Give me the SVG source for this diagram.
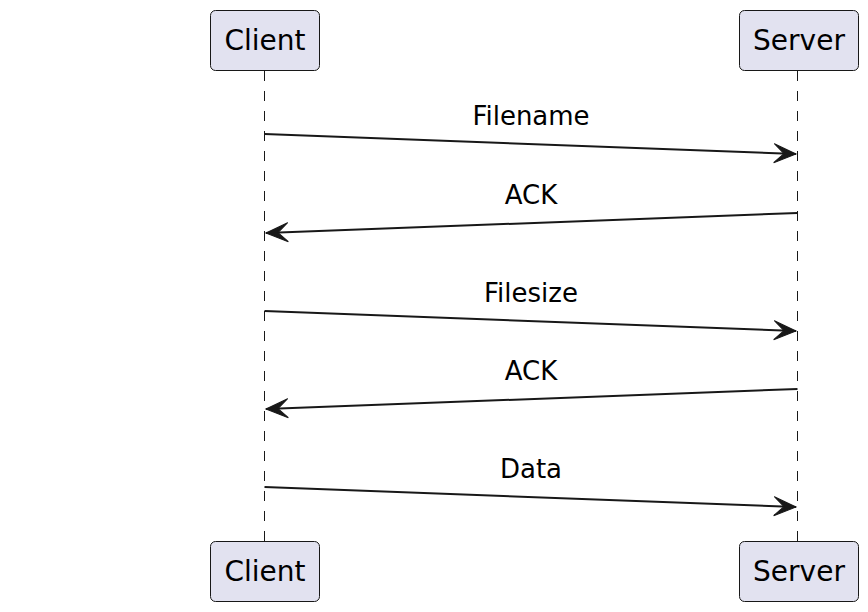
<svg xmlns="http://www.w3.org/2000/svg" width="868" height="612" viewBox="0 0 868 612">
<style>
.box{fill:#E2E2F0;stroke:#181818;stroke-width:1}
.pt{font-family:"DejaVu Sans",sans-serif;font-size:28px;fill:#000;text-anchor:middle}
.mt{font-family:"DejaVu Sans",sans-serif;font-size:26px;fill:#000;text-anchor:middle}
.life{stroke:#181818;stroke-width:1;stroke-dasharray:10,10;fill:none}
.msg{stroke:#181818;stroke-width:2;fill:none;marker-end:url(#ah)}
</style>
<defs>
<marker id="ah" markerUnits="userSpaceOnUse" viewBox="-24 -11 26 22" refX="0" refY="0" markerWidth="26" markerHeight="22" orient="auto">
<polygon points="0,0 -22,-9.5 -12,0 -22,9.5" fill="#181818" stroke="#181818" stroke-width="1"/>
</marker>
</defs>
<rect width="868" height="612" fill="#FFFFFF"/>
<g id="lifelines">
<line class="life" x1="264.5" y1="71" x2="264.5" y2="541"/>
<line class="life" x1="797.5" y1="71" x2="797.5" y2="541"/>
</g>
<g id="client-top"><rect class="box" x="210.5" y="10.5" width="109" height="60" rx="5"/><text class="pt" x="265" y="50">Client</text></g>
<g id="server-top"><rect class="box" x="739.5" y="10.5" width="119" height="60" rx="5"/><text class="pt" x="799" y="50">Server</text></g>
<g id="client-bottom"><rect class="box" x="210.5" y="541.5" width="109" height="60" rx="5"/><text class="pt" x="265" y="581">Client</text></g>
<g id="server-bottom"><rect class="box" x="739.5" y="541.5" width="119" height="60" rx="5"/><text class="pt" x="799" y="581">Server</text></g>
<g id="connectors">
<line class="msg" x1="264.5" y1="134" x2="796" y2="154"/>
<text class="mt" x="531" y="125">Filename</text>
<line class="msg" x1="797.5" y1="213" x2="266" y2="233"/>
<text class="mt" x="531" y="204">ACK</text>
<line class="msg" x1="264.5" y1="311" x2="796" y2="331"/>
<text class="mt" x="531" y="302">Filesize</text>
<line class="msg" x1="797.5" y1="389" x2="266" y2="409"/>
<text class="mt" x="531" y="380">ACK</text>
<line class="msg" x1="264.5" y1="487" x2="796" y2="507"/>
<text class="mt" x="531" y="478">Data</text>
</g>
</svg>
